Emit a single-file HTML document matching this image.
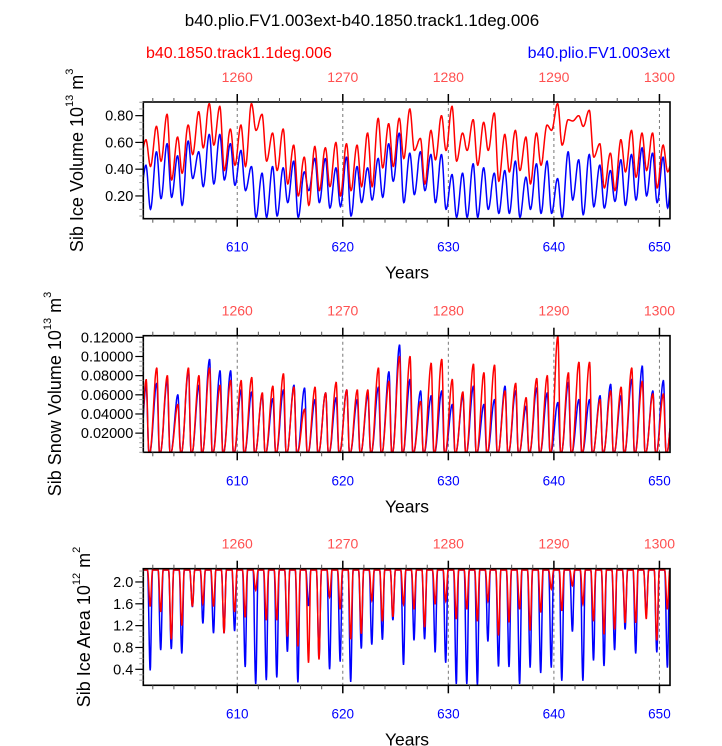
<!DOCTYPE html>
<html><head><meta charset="utf-8"><style>
html,body{margin:0;padding:0;background:#fff}
svg{display:block;font-family:"Liberation Sans",sans-serif}
</style></head><body>
<svg id="chart" width="722" height="746" viewBox="0 0 722 746">
<text x="362" y="26" text-anchor="middle" font-size="17" fill="#000">b40.plio.FV1.003ext-b40.1850.track1.1deg.006</text>
<text x="146" y="58" font-size="16" fill="#ff0000">b40.1850.track1.1deg.006</text>
<text x="670" y="58" text-anchor="end" font-size="16" fill="#0000ff">b40.plio.FV1.003ext</text>
</svg>
<script>
const years = [];
for (let i = 0; i < 50; i++) years.push(601 + i);
const topLabels = ["1260","1270","1280","1290","1300"];
const bottomLabels = ["610","620","630","640","650"];
const majorYears = [610,620,630,640,650];

const iceVolBlueMax = [0.43,0.53,0.59,0.50,0.61,0.53,0.66,0.66,0.59,0.54,0.42,0.37,0.42,0.41,0.46,0.38,0.48,0.48,0.41,0.49,0.42,0.41,0.48,0.59,0.67,0.52,0.53,0.51,0.51,0.36,0.37,0.44,0.41,0.37,0.39,0.46,0.34,0.44,0.46,0.33,0.53,0.47,0.51,0.43,0.39,0.47,0.51,0.56,0.52,0.49];
const iceVolBlueMin = [0.10,0.18,0.19,0.13,0.33,0.27,0.29,0.32,0.28,0.24,0.04,0.04,0.05,0.15,0.04,0.24,0.15,0.11,0.12,0.05,0.15,0.17,0.19,0.31,0.15,0.21,0.24,0.15,0.10,0.04,0.04,0.04,0.10,0.07,0.07,0.04,0.10,0.07,0.07,0.04,0.17,0.06,0.12,0.11,0.16,0.13,0.17,0.20,0.15,0.11];
const iceVolRedMax = [0.62,0.72,0.81,0.64,0.73,0.83,0.89,0.87,0.70,0.73,0.89,0.81,0.67,0.70,0.58,0.49,0.57,0.56,0.60,0.59,0.58,0.67,0.78,0.74,0.78,0.85,0.63,0.69,0.80,0.87,0.67,0.77,0.75,0.82,0.66,0.69,0.64,0.67,0.73,0.89,0.77,0.80,0.84,0.59,0.52,0.62,0.69,0.67,0.67,0.58];
const iceVolRedMin = [0.42,0.46,0.32,0.37,0.51,0.56,0.58,0.39,0.43,0.42,0.69,0.46,0.39,0.29,0.20,0.13,0.24,0.27,0.20,0.24,0.27,0.27,0.41,0.42,0.48,0.54,0.29,0.47,0.54,0.46,0.54,0.43,0.54,0.31,0.38,0.39,0.29,0.43,0.69,0.58,0.76,0.72,0.49,0.26,0.24,0.38,0.34,0.39,0.26,0.38];

const snowRedMax = [0.076,0.088,0.080,0.050,0.088,0.080,0.088,0.070,0.075,0.075,0.078,0.062,0.069,0.082,0.068,0.045,0.068,0.062,0.073,0.065,0.065,0.065,0.088,0.074,0.100,0.100,0.053,0.093,0.097,0.076,0.063,0.092,0.083,0.091,0.064,0.072,0.057,0.077,0.080,0.121,0.083,0.094,0.094,0.055,0.064,0.068,0.088,0.074,0.061,0.061];
const snowBlueMax = [0.070,0.072,0.075,0.060,0.085,0.070,0.097,0.085,0.085,0.065,0.063,0.060,0.056,0.065,0.070,0.067,0.055,0.062,0.057,0.065,0.055,0.060,0.068,0.084,0.112,0.076,0.064,0.059,0.064,0.050,0.059,0.069,0.050,0.055,0.069,0.064,0.048,0.067,0.062,0.052,0.073,0.055,0.055,0.059,0.071,0.059,0.076,0.090,0.064,0.075];

const iceAreaMax = 2.22;
const iceAreaBlueMin = [0.38,0.75,0.77,0.69,1.54,1.24,1.06,1.06,1.10,0.44,0.13,0.20,0.25,0.72,0.16,1.56,0.60,0.40,0.54,0.17,0.78,0.85,0.94,1.30,0.48,0.93,0.95,0.71,0.52,0.13,0.13,0.11,0.91,0.45,0.44,0.13,0.43,0.33,0.43,0.19,1.09,0.19,0.56,0.46,0.75,1.13,0.69,1.40,0.71,0.43];
const iceAreaRedMin = [1.55,1.45,0.95,1.20,1.55,1.60,1.55,1.06,1.45,1.35,1.85,1.30,1.30,1.00,0.82,0.52,0.58,1.72,1.50,0.95,1.05,1.66,1.28,1.36,1.59,1.50,1.17,1.59,1.65,1.32,1.50,1.28,1.65,1.02,1.26,1.50,1.11,1.44,1.87,1.47,1.93,1.59,1.28,1.04,1.13,1.25,1.25,1.32,0.93,1.50];

const NS = "http://www.w3.org/2000/svg";
const svg = document.getElementById("chart");
const L = 143.3, R = 670, X0 = 601.1, X1 = 651.0;
function xs(t){ return L + (t - X0) / (X1 - X0) * (R - L); }
function mk(tag, attrs, parent){ const e = document.createElementNS(NS, tag); for (const k in attrs) e.setAttribute(k, attrs[k]); (parent||svg).appendChild(e); return e; }

function sampleCurve(kp){
  kp.sort((a,b)=>a[0]-b[0]);
  const pts = [];
  for (let t = 601; t <= 651.001; t += 1/36){
    let j = 0; while (j < kp.length-2 && kp[j+1][0] < t) j++;
    const a = kp[j], b = kp[j+1];
    let f = (t - a[0]) / (b[0] - a[0]); f = Math.max(0, Math.min(1, f));
    const g = (1 - Math.cos(Math.PI * f)) / 2;
    pts.push([t, a[1] + (b[1]-a[1]) * g]);
  }
  return pts;
}
function volKP(mx, mn){ const k=[[600.9,(mx[0]+mn[0])/2]]; for (let i=0;i<years.length;i++){ k.push([years[i]+0.35,mx[i]]); k.push([years[i]+0.78,mn[i]]);} k.push([651.2,mx[mx.length-1]*0.8]); return k; }
function snowKP(mx){ const k=[[600.8,0]]; for (let i=0;i<years.length;i++){ k.push([years[i]+0.38,mx[i]]); k.push([years[i]+0.63,0]); k.push([years[i]+0.72,0]);} k.push([651.2,0.04]); return k; }
function areaKP(mn){ const k=[[600.9,iceAreaMax]]; for (let i=0;i<years.length;i++){ k.push([years[i]+0.50,iceAreaMax]); k.push([years[i]+0.75,mn[i]]); k.push([years[i]+0.98,iceAreaMax]);} k.push([651.2,iceAreaMax]); return k; }

const panels = [
  {id:"ice-volume", top:102, bot:218.7, ymin:0.03, ymax:0.902, major:[0.2,0.4,0.6,0.8], lab:["0.20","0.40","0.60","0.80"], minorStep:0.05, title:["Sib Ice Volume 10","13"," m","3"], tx:77,
   series:[["blue",volKP(iceVolBlueMax,iceVolBlueMin)],["red",volKP(iceVolRedMax,iceVolRedMin)]]},
  {id:"snow-volume", top:335.7, bot:452.3, ymin:0, ymax:0.1217, major:[0.02,0.04,0.06,0.08,0.10,0.12], lab:["0.02000","0.04000","0.06000","0.08000","0.10000","0.12000"], minorStep:0.005, title:["Sib Snow Volume 10","13"," m","3"], tx:55,
   series:[["blue",snowKP(snowBlueMax)],["red",snowKP(snowRedMax)]]},
  {id:"ice-area", top:568.7, bot:685.3, ymin:0.107, ymax:2.243, major:[0.4,0.8,1.2,1.6,2.0], lab:["0.4","0.8","1.2","1.6","2.0"], minorStep:0.1, title:["Sib Ice Area 10","12"," m","2"], tx:84,
   series:[["blue",areaKP(iceAreaBlueMin)],["red",areaKP(iceAreaRedMin)]]}
];

panels.forEach((p, pi) => {
  const ys = v => p.bot - (v - p.ymin) / (p.ymax - p.ymin) * (p.bot - p.top);
  const g = mk("g", {});
  
  
  const cp = mk("clipPath", {id:"clip"+pi}, g);
  mk("rect", {x:L, y:p.top, width:R-L, height:p.bot-p.top}, cp);
  majorYears.forEach(yv => {
    const gl = mk("line", {x1:xs(yv), x2:xs(yv), y1:p.top, y2:p.bot, stroke:"#777", "stroke-width":1, "stroke-dasharray":"3,3"}, g);
    
    
  });
  p.series.forEach(([col, kp]) => {
    const pts = sampleCurve(kp);
    const d = pts.map((q,i)=>(i?"L":"M")+xs(q[0]).toFixed(1)+","+ys(q[1]).toFixed(1)).join("");
    const path = mk("path", {d:d, fill:"none", stroke: col==="blue"?"#0000ff":"#ff0000", "stroke-width":1.5, "clip-path":"url(#clip"+pi+")"}, g);
    
    
  });
  const fr = mk("rect", {x:L, y:p.top, width:R-L, height:p.bot-p.top, fill:"none", stroke:"#000", "stroke-width":1.6}, g);
  
  
  for (let yr = 602; yr <= 650; yr += 2){
    const maj = yr % 10 === 0;
    const len = maj ? 8 : 4;
    mk("line", {x1:xs(yr), x2:xs(yr), y1:p.bot, y2:p.bot+len, stroke: maj?"#000":"#555", "stroke-width":maj?1.5:1}, g);
    mk("line", {x1:xs(yr), x2:xs(yr), y1:p.top, y2:p.top-len, stroke: maj?"#000":"#555", "stroke-width":maj?1.5:1}, g);
  }
  majorYears.forEach((yv, i) => {
    const bl = mk("text", {x:xs(yv), y:p.bot+33, "text-anchor":"middle", "font-size":13.5, fill:"#0000ff"}, g);
    bl.textContent = bottomLabels[i];
    
    
    const tl = mk("text", {x:xs(yv), y:p.top-20, "text-anchor":"middle", "font-size":14, fill:"#ff5050"}, g);
    tl.textContent = topLabels[i];
    
    
  });
  for (let v = Math.ceil(p.ymin/p.minorStep)*p.minorStep; v <= p.ymax + 1e-9; v += p.minorStep){
    mk("line", {x1:L-4, x2:L, y1:ys(v), y2:ys(v), stroke:"#999", "stroke-width":1}, g);
  }
  p.major.forEach((v, i) => {
    mk("line", {x1:L-8, x2:L, y1:ys(v), y2:ys(v), stroke:"#000", "stroke-width":1.2}, g);
    const t = mk("text", {x:L-10, y:ys(v)+5, "text-anchor":"end", "font-size":14.5, fill:"#000"}, g);
    t.textContent = p.lab[i];
    
    
  });
  const cy = (p.top + p.bot) / 2;
  const yt = mk("text", {x:p.tx, y:cy, "text-anchor":"middle", "font-size":18, fill:"#000", transform:"rotate(-90 "+p.tx+" "+cy+")", "dominant-baseline":"central"}, g);
  
  
  const parts = p.title;
  const s1 = mk("tspan", {}, yt); s1.textContent = parts[0];
  const s2 = mk("tspan", {"font-size":11, dy:-7}, yt); s2.textContent = parts[1];
  const s3 = mk("tspan", {dy:7}, yt); s3.textContent = parts[2];
  const s4 = mk("tspan", {"font-size":11, dy:-7}, yt); s4.textContent = parts[3];
  const xt = mk("text", {x:407, y:p.bot+60, "text-anchor":"middle", "font-size":17.5, fill:"#000"}, g);
  xt.textContent = "Years";
  
  
});
</script>
</body></html>
